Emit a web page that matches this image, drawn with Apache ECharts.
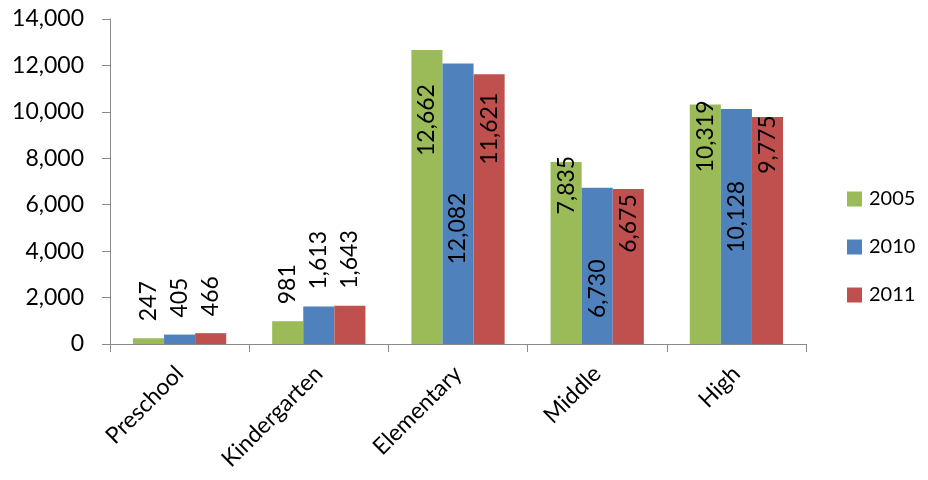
<!DOCTYPE html>
<html>
<head>
<meta charset="utf-8">
<script src="https://cdn.jsdelivr.net/npm/echarts@6/dist/echarts.min.js"></script>
<style>
  html, body { margin: 0; padding: 0; background: #fff; }
  #chart { width: 928px; height: 480px; }
</style>
</head>
<body>
<div id="chart"></div>
<script>
const categories = ['Preschool', 'Kindergarten', 'Elementary', 'Middle', 'High'];
const seriesNames = ['2005', '2010', '2011'];
const values2005 = [247, 981, 12662, 7835, 10319];
const values2010 = [405, 1613, 12082, 6730, 10128];
const values2011 = [466, 1643, 11621, 6675, 9775];
const yTicks = { min: 0, max: 14000, interval: 2000 };

const colors = ['#9BBB59', '#4F81BD', '#C0504D'];
const FONT = 'Lato';

// label placement per series (index by category): 'above' => above the bar,
// number => centre of label measured in px down from the bar top (inside bar)
const labelPlacement = [
  ['above', 'above', 70, 23, 32],
  ['above', 'above', 165, 101, 108],
  ['above', 'above', 54.5, 34.5, 27.5]
];

const allValues = [values2005, values2010, values2011];
const fmt = v => v.toLocaleString('en-US');

function buildData(si) {
  return allValues[si].map((v, ci) => {
    const p = labelPlacement[si][ci];
    const label = p === 'above'
      ? { position: 'top', distance: 17, align: 'left', verticalAlign: 'middle' }
      : { position: 'insideTop', distance: p, align: 'center', verticalAlign: 'middle' };
    return { value: v, label: label };
  });
}

const chart = echarts.init(document.getElementById('chart'), null, { renderer: 'canvas' });
chart.setOption({
  animation: false,
  textStyle: { fontFamily: FONT },
  grid: { left: 110, right: 122, top: 19, bottom: 136, containLabel: false },
  legend: {
    orient: 'vertical',
    left: 847,
    top: 189,
    padding: 0,
    itemWidth: 15,
    itemHeight: 15,
    itemGap: 28,
    icon: 'rect',
    textStyle: { fontFamily: FONT, fontSize: 20, color: '#000', padding: [0, 0, 0, 2] },
    data: seriesNames
  },
  xAxis: {
    type: 'category',
    data: categories,
    axisLine: { lineStyle: { color: '#898989', width: 1 } },
    axisTick: { show: true, length: 8, lineStyle: { color: '#898989' } },
    axisLabel: { rotate: 45, fontFamily: FONT, fontSize: 23, color: '#000', margin: 26 }
  },
  yAxis: {
    type: 'value',
    min: yTicks.min,
    max: yTicks.max,
    interval: yTicks.interval,
    splitLine: { show: false },
    axisLine: { show: true, lineStyle: { color: '#898989', width: 1 } },
    axisTick: { show: true, length: 8, lineStyle: { color: '#898989' } },
    axisLabel: { fontFamily: FONT, fontSize: 23, color: '#000', margin: 26, formatter: v => fmt(v) }
  },
  series: seriesNames.map((name, si) => ({
    name: name,
    type: 'bar',
    barGap: '0%',
    barCategoryGap: '33%',
    itemStyle: { color: colors[si] },
    label: {
      show: true,
      rotate: 90,
      fontFamily: FONT,
      fontSize: 23,
      color: '#000',
      formatter: p => fmt(p.value)
    },
    data: buildData(si)
  }))
});
</script>
</body>
</html>
